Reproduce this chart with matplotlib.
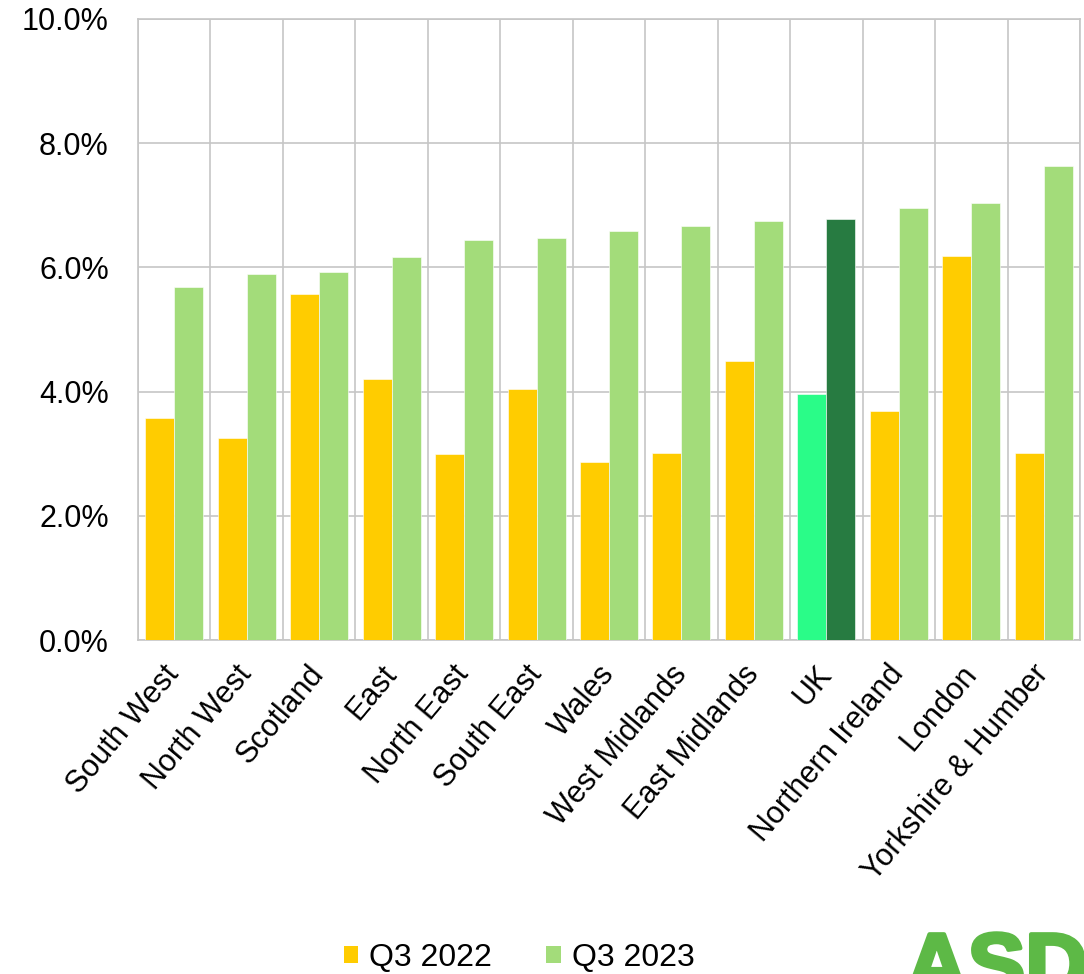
import numpy as np
import matplotlib
matplotlib.use("Agg")
import matplotlib.pyplot as plt
from matplotlib.patches import Patch
import matplotlib.patheffects as pe

plt.rcParams['font.family'] = ['Liberation Sans', 'DejaVu Sans']

regions = ["South West", "North West", "Scotland", "East", "North East", "South East",
           "Wales", "West Midlands", "East Midlands", "UK", "Northern Ireland",
           "London", "Yorkshire & Humber"]
q3_2022 = [3.57, 3.25, 5.57, 4.21, 3.00, 4.04, 2.87, 3.01, 4.50, 3.96, 3.68, 6.18, 3.01]
q3_2023 = [5.69, 5.89, 5.92, 6.17, 6.44, 6.48, 6.59, 6.67, 6.75, 6.78, 6.95, 7.03, 7.63]
series_names = ["Q3 2022", "Q3 2023"]

yellow = "#FFCC00"
green = "#A3DC7A"
uk_light = "#2AFC88"
uk_dark = "#277B41"

fig = plt.figure(figsize=(10.84, 9.74), dpi=100)
ax = fig.add_axes([0.1273, 0.3429, 0.8690, 0.6376])

x = np.arange(len(regions))
w = 0.4
c22 = [uk_light if r == "UK" else yellow for r in regions]
c23 = [uk_dark if r == "UK" else green for r in regions]
ax.bar(x - w / 2, np.array(q3_2022) / 100, w, color=c22, edgecolor="#FFFFFF", linewidth=0.4, zorder=3)
ax.bar(x + w / 2, np.array(q3_2023) / 100, w, color=c23, edgecolor="#FFFFFF", linewidth=0.4, zorder=3)

ax.set_xlim(-0.5, len(regions) - 0.5)
ax.set_ylim(0, 0.10)
ax.set_yticks(np.arange(0, 0.101, 0.02))
ax.set_yticklabels([f"{v:.1f}%" for v in np.arange(0, 10.1, 2)])
ax.set_xticks(x)
ax.set_xticklabels(regions, rotation=50, ha="right", va="center", rotation_mode="anchor")
ax.set_xticks(np.arange(-0.5, len(regions), 1), minor=True)

ax.tick_params(axis="y", length=0, pad=21, labelsize=22)
ax.tick_params(axis="x", which="both", length=0, pad=21, labelsize=22)

grid_c = "#C6C6C6"
ax.grid(axis="y", which="major", color=grid_c, linewidth=1.2, zorder=0)
ax.grid(axis="x", which="minor", color=grid_c, linewidth=1.2, zorder=0)
ax.grid(axis="x", which="major", visible=False)
for s in ax.spines.values():
    s.set_color(grid_c)
    s.set_linewidth(1.2)

handles = [Patch(facecolor=yellow), Patch(facecolor=green)]
fig.legend(handles, series_names, loc="lower center", bbox_to_anchor=(0.479, -0.028),
           ncol=2, frameon=False, fontsize=23, handlelength=0.45, handleheight=0.45,
           handletextpad=0.35, columnspacing=1.7)

# corner logo, cut off by the bottom edge
fig.text(0.8355, -0.02, "ASDA", color="#5DB946", fontsize=62, fontweight="bold",
         ha="left", va="baseline",
         path_effects=[pe.withStroke(linewidth=3, foreground="#5DB946")])

fig.savefig("out.png", dpi=100)
